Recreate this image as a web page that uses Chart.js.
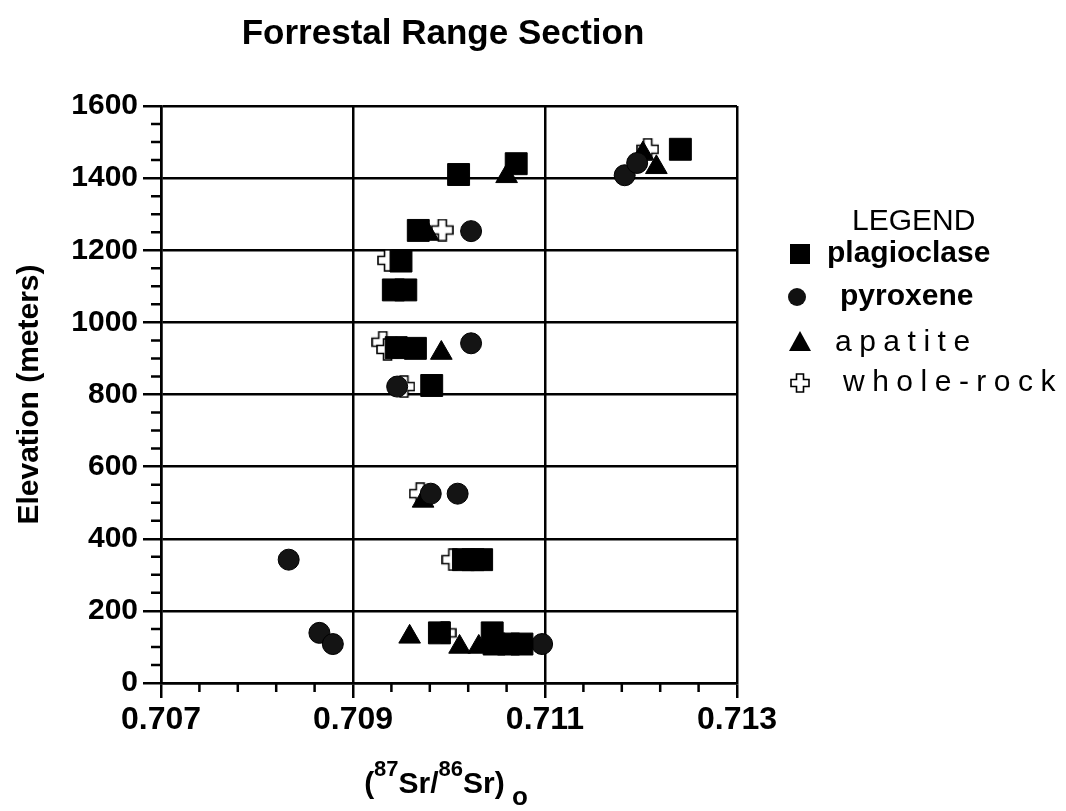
<!DOCTYPE html>
<html>
<head>
<meta charset="utf-8">
<script src="https://cdn.jsdelivr.net/npm/chart.js@4/dist/chart.umd.min.js"></script>
<style>
  html, body { margin: 0; padding: 0; background: #fff; }
</style>
</head>
<body>
<canvas id="srChart" width="1066" height="811"></canvas>
<script>
// valeurs
const plagX = [0.7101, 0.7107, 0.71241, 0.70968, 0.7095, 0.70942, 0.70955, 0.70945, 0.70965, 0.70982, 0.71015, 0.71025, 0.71034, 0.7099, 0.71045, 0.71047, 0.71062, 0.71076];
const plagY = [1410, 1440, 1480, 1255, 1170, 1090, 1090, 930, 928, 825, 342, 342, 342, 139, 139, 108, 108, 108];

const pyroX = [0.71023, 0.70945, 0.71023, 0.70946, 0.70981, 0.71009, 0.70833, 0.70865, 0.70879, 0.71097, 0.71183, 0.71196];
const pyroY = [1253, 930, 942, 822, 525, 525, 342, 139, 108, 108, 1408, 1442];

const apatX = [0.7106, 0.70978, 0.70992, 0.70973, 0.70959, 0.71011, 0.71031, 0.71202, 0.71216];
const apatY = [1405, 1245, 915, 505, 128, 100, 100, 1468, 1430];

const rockX = [0.70993, 0.70937, 0.70931, 0.70936, 0.70953, 0.7097, 0.71004, 0.70996, 0.71207];
const rockY = [1256, 1172, 945, 925, 822, 525, 342, 139, 1480];

const seriesNames = ['plagioclase', 'pyroxene', 'apatite', 'whole-rock'];
const xTicks = [0.707, 0.709, 0.711, 0.713];
const yTicks = [0, 200, 400, 600, 800, 1000, 1200, 1400, 1600];

const toPoints = (xs, ys) => xs.map((x, i) => ({ x: x, y: ys[i] }));

// croix creuse pour whole-rock
function makeCross(size, arm) {
  const c = document.createElement('canvas');
  c.width = size; c.height = size;
  const g = c.getContext('2d');
  const m = size / 2, a = arm / 2, e = size / 2 - 1;
  g.beginPath();
  g.moveTo(m - a, m - e); g.lineTo(m + a, m - e); g.lineTo(m + a, m - a);
  g.lineTo(m + e, m - a); g.lineTo(m + e, m + a); g.lineTo(m + a, m + a);
  g.lineTo(m + a, m + e); g.lineTo(m - a, m + e); g.lineTo(m - a, m + a);
  g.lineTo(m - e, m + a); g.lineTo(m - e, m - a); g.lineTo(m - a, m - a);
  g.closePath();
  g.fillStyle = '#fff'; g.fill();
  g.lineWidth = 1.6; g.strokeStyle = '#000'; g.stroke();
  return c;
}
const crossImg = makeCross(23, 8);
const crossSmall = makeCross(20, 7);

// petites graduations
const minorTicks = {
  id: 'minorTicks',
  afterDraw(chart) {
    const ctx = chart.ctx, xs = chart.scales.x, ys = chart.scales.y;
    ctx.save();
    ctx.strokeStyle = '#000';
    ctx.lineWidth = 2.5;
    ctx.beginPath();
    for (let v = 50; v < 1600; v += 50) {
      if (v % 200 === 0) continue;
      const p = ys.getPixelForValue(v);
      ctx.moveTo(xs.left - 10, p); ctx.lineTo(xs.left, p);
    }
    for (let k = 1; k < 15; k++) {
      if (k % 5 === 0) continue;
      const p = xs.getPixelForValue(0.707 + k * 0.0004);
      ctx.moveTo(p, ys.bottom); ctx.lineTo(p, ys.bottom + 9);
    }
    ctx.stroke();
    ctx.restore();
  }
};

// titre, titre de l'axe x et légende
const textsPlugin = {
  id: 'texts',
  afterDraw(chart) {
    const ctx = chart.ctx;
    ctx.save();
    ctx.fillStyle = '#000';
    ctx.textBaseline = 'alphabetic';

    // titre
    ctx.font = 'bold 35px "Liberation Sans", Arial, sans-serif';
    ctx.textAlign = 'center';
    ctx.fillText('Forrestal Range Section', 443, 44);

    // (87Sr/86Sr)o
    ctx.textAlign = 'left';
    const big = 'bold 30px "Liberation Sans", Arial, sans-serif';
    const sup = 'bold 22px "Liberation Sans", Arial, sans-serif';
    const parts = [
      ['(', big, 0], ['87', sup, -17], ['Sr/', big, 0], ['86', sup, -17], ['Sr)', big, 0], [' o', 'bold 26px "Liberation Sans", Arial, sans-serif', 12]
    ];
    let w = 0;
    parts.forEach(p => { ctx.font = p[1]; w += ctx.measureText(p[0]).width; });
    let x = 446 - w / 2;
    const base = 793;
    parts.forEach(p => {
      ctx.font = p[1];
      ctx.fillText(p[0], x, base + p[2]);
      x += ctx.measureText(p[0]).width;
    });

    // légende
    ctx.font = '30px "Liberation Sans", Arial, sans-serif';
    ctx.fillText('LEGEND', 852, 230);

    ctx.fillRect(790, 244, 20, 20);
    ctx.font = 'bold 30px "Liberation Sans", Arial, sans-serif';
    ctx.fillText(seriesNames[0], 827, 262);

    ctx.fillStyle = '#111';
    ctx.beginPath(); ctx.arc(797, 297, 9, 0, Math.PI * 2); ctx.fill();
    ctx.fillStyle = '#000';
    ctx.fillText(seriesNames[1], 840, 305);

    ctx.beginPath();
    ctx.moveTo(800, 331); ctx.lineTo(811, 351); ctx.lineTo(789, 351); ctx.closePath(); ctx.fill();
    ctx.font = '30px "Liberation Sans", Arial, sans-serif';
    ctx.letterSpacing = '7.5px';
    ctx.fillText(seriesNames[2], 835, 351);

    ctx.drawImage(crossSmall, 790, 373);
    ctx.fillText(seriesNames[3], 843, 391);
    ctx.restore();
  }
};

const axisFont = { family: '"Liberation Sans", Arial, sans-serif', weight: 'bold' };
const srChart = new Chart(document.getElementById('srChart'), {
  type: 'scatter',
  data: {
    datasets: [{
      label: seriesNames[0],
      data: toPoints(plagX, plagY),
      pointStyle: 'rect',
      radius: 15.5,
      backgroundColor: '#000',
      borderColor: '#000',
      borderWidth: 1,
    }, {
      label: seriesNames[1],
      data: toPoints(pyroX, pyroY),
      pointStyle: 'circle',
      radius: 10.5,
      backgroundColor: '#141414',
      borderColor: '#000',
      borderWidth: 1,
    }, {
      label: seriesNames[2],
      data: toPoints(apatX, apatY),
      pointStyle: 'triangle',
      radius: 12.5,
      backgroundColor: '#000',
      borderColor: '#000',
      borderWidth: 1,
    }, {
      label: seriesNames[3],
      data: toPoints(rockX, rockY),
      pointStyle: crossImg,
      backgroundColor: '#fff',
      borderColor: '#000',
    }]
  },
  options: {
    responsive: false,
    animation: false,
    layout: { padding: { left: 0, right: 329, top: 106, bottom: 0 } },
    plugins: {
      legend: { display: false },
      tooltip: { enabled: false },
    },
    scales: {
      x: {
        type: 'linear',
        min: 0.707,
        max: 0.713,
        afterBuildTicks: s => { s.ticks = xTicks.map(v => ({ value: v })); },
        afterFit: s => { s.height = 128; },
        ticks: {
          callback: v => v.toFixed(3),
          color: '#000',
          padding: 3,
          font: { ...axisFont, size: 32 },
        },
        grid: { color: '#000', lineWidth: 2.5, tickLength: 15 },
        border: { color: '#000', width: 2.5 },
      },
      y: {
        min: 0,
        max: 1600,
        afterBuildTicks: s => { s.ticks = yTicks.map(v => ({ value: v })); },
        afterFit: s => { s.width = 161; },
        ticks: {
          callback: v => String(v),
          color: '#000',
          padding: 5,
          font: { ...axisFont, size: 30 },
        },
        grid: { color: '#000', lineWidth: 2.5, tickLength: 18 },
        border: { color: '#000', width: 2.5 },
        title: {
          display: true,
          text: 'Elevation (meters)',
          color: '#000',
          padding: { top: 12, bottom: 0 },
          font: { ...axisFont, size: 30 },
        },
      }
    }
  },
  plugins: [minorTicks, textsPlugin]
});
</script>
</body>
</html>
